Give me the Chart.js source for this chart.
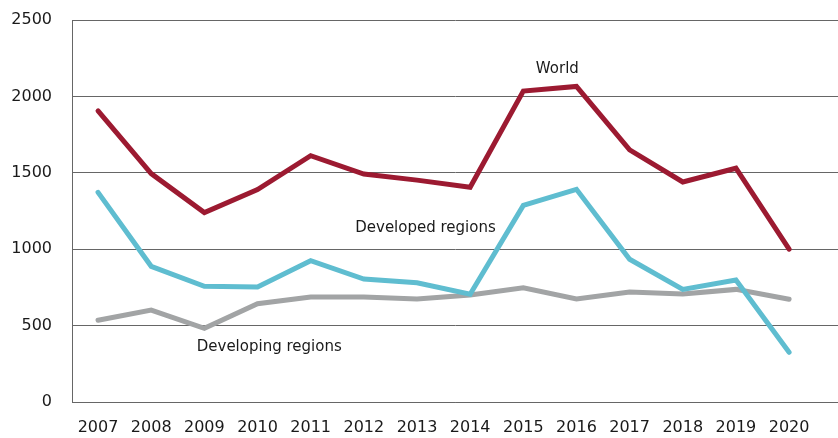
<!DOCTYPE html>
<html>
<head>
<meta charset="utf-8">
<script src="https://cdn.jsdelivr.net/npm/chart.js@4/dist/chart.umd.min.js"></script>
<style>
  html, body { margin: 0; padding: 0; background: #fff; }
  #wrap { width: 838px; height: 438px; }
</style>
</head>
<body>
<div id="wrap"><canvas id="chart"></canvas></div>
<script>
const years = [2007, 2008, 2009, 2010, 2011, 2012, 2013, 2014, 2015, 2016, 2017, 2018, 2019, 2020];
const world = [1905, 1495, 1240, 1390, 1612, 1492, 1452, 1405, 2035, 2065, 1650, 1440, 1530, 1000];
const developed = [1372, 888, 757, 752, 925, 805, 780, 705, 1287, 1392, 934, 737, 798, 325];
const developing = [535, 602, 482, 643, 687, 687, 674, 700, 748, 674, 720, 707, 737, 672];
const yTicks = [0, 500, 1000, 1500, 2000, 2500];

// text labels placed next to the lines, in data units
const lineLabels = [
  { text: 'World', x: 2015.64, y: 2180 },
  { text: 'Developed regions', x: 2013.16, y: 1140 },
  { text: 'Developing regions', x: 2010.22, y: 360 }
];

const FONT = '"DejaVu Sans", sans-serif';

const toPoints = vals => vals.map((v, i) => ({ x: years[i], y: v }));

const labelPlugin = {
  id: 'lineLabels',
  afterDatasetsDraw(chart) {
    const { ctx, scales } = chart;
    ctx.save();
    ctx.font = '15px ' + FONT;
    ctx.fillStyle = '#1a1a1a';
    ctx.textAlign = 'center';
    ctx.textBaseline = 'middle';
    lineLabels.forEach(l => {
      ctx.fillText(l.text, scales.x.getPixelForValue(l.x), scales.y.getPixelForValue(l.y));
    });
    ctx.restore();
  }
};

const line = (label, vals, color) => ({
  label,
  data: toPoints(vals),
  borderColor: color,
  backgroundColor: color,
  borderWidth: 5,
  pointRadius: 0,
  tension: 0,
  fill: false,
  borderCapStyle: 'round'
});

new Chart(document.getElementById('chart'), {
  type: 'line',
  data: {
    datasets: [
      line('World', world, '#9c1a31'),
      line('Developed regions', developed, '#5fbdd0'),
      line('Developing regions', developing, '#a2a4a5')
    ]
  },
  options: {
    responsive: true,
    maintainAspectRatio: false,
    animation: false,
    layout: { padding: { top: 20, left: 0, right: 0, bottom: 0 } },
    plugins: {
      legend: { display: false },
      tooltip: { enabled: false }
    },
    scales: {
      x: {
        type: 'linear',
        min: 2006.51,
        max: 2020.92,
        afterBuildTicks: axis => { axis.ticks = years.map(v => ({ value: v })); },
        afterFit: axis => { axis.height = 36; axis.paddingLeft = 0; axis.paddingRight = 0; },
        grid: { display: false, drawTicks: false },
        border: { display: true, color: '#666', width: 1 },
        ticks: {
          padding: 16,
          color: '#1a1a1a',
          font: { family: FONT, size: 16 },
          autoSkip: false,
          maxRotation: 0,
          callback: v => String(v)
        }
      },
      y: {
        min: 0,
        max: 2500,
        afterBuildTicks: axis => { axis.ticks = yTicks.map(v => ({ value: v })); },
        afterFit: axis => { axis.width = 72; axis.paddingTop = 0; axis.paddingBottom = 0; },
        grid: { color: '#666', lineWidth: 1, drawTicks: false },
        border: { display: true, color: '#666', width: 1 },
        ticks: {
          padding: 20,
          color: '#1a1a1a',
          font: { family: FONT, size: 16 },
          callback: v => String(v)
        }
      }
    }
  },
  plugins: [labelPlugin]
});
</script>
</body>
</html>
